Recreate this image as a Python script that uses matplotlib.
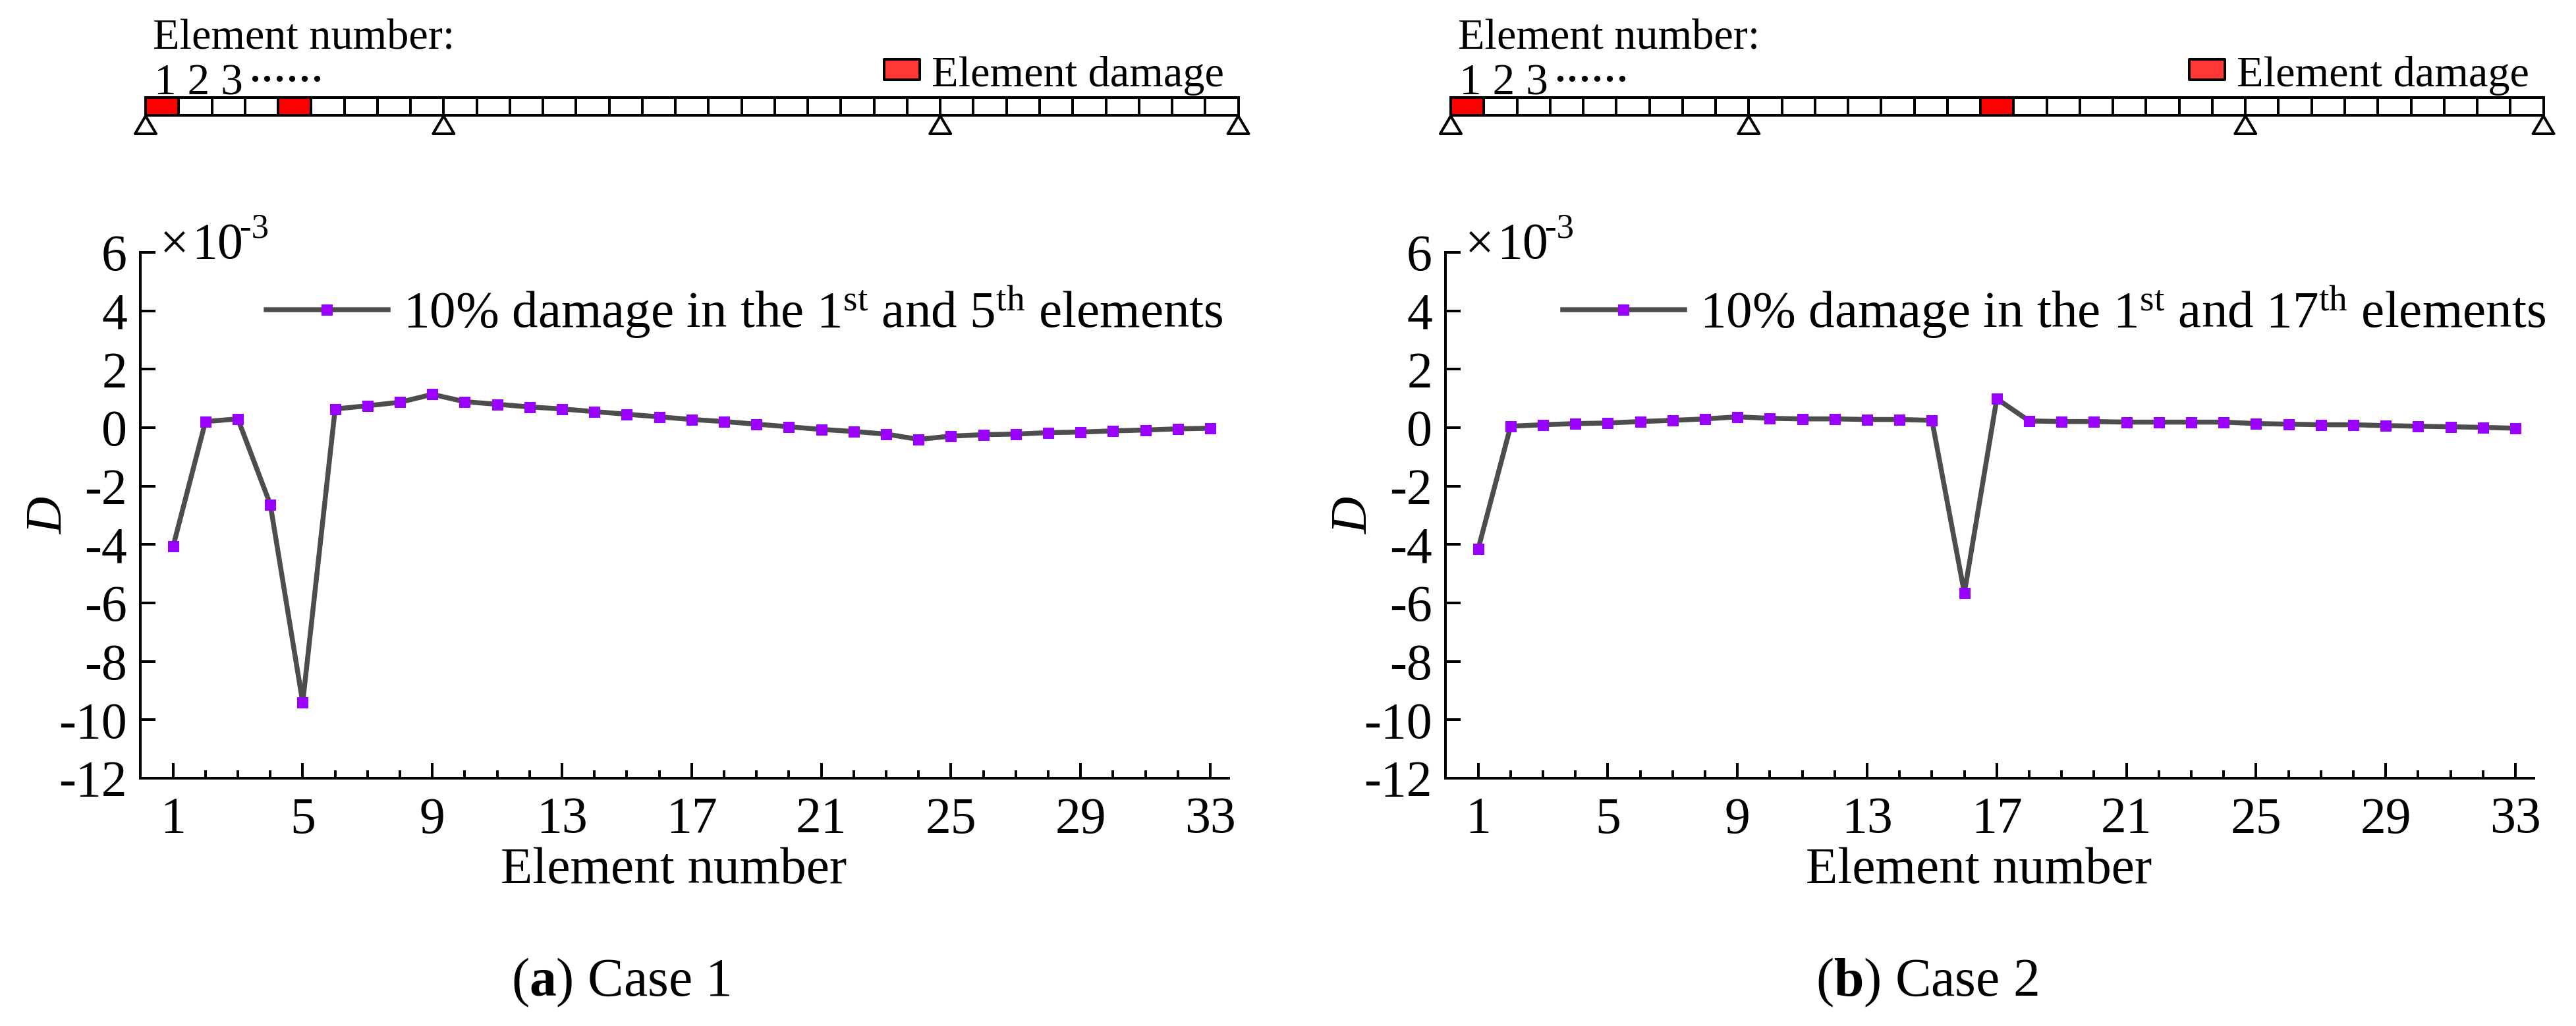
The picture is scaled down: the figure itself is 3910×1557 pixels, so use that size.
import matplotlib
matplotlib.use("Agg")
import matplotlib.pyplot as plt
from matplotlib.patches import Rectangle, Polygon

W, H = 3910, 1557
DPI = 100
PX = 72 / DPI

plt.rcParams['font.family'] = ['Liberation Serif', 'DejaVu Serif']
plt.rcParams['mathtext.fontset'] = 'custom'
plt.rcParams['mathtext.rm'] = 'Liberation Serif'
plt.rcParams['mathtext.it'] = 'Liberation Serif:italic'
plt.rcParams['mathtext.bf'] = 'Liberation Serif:bold'

elements = list(range(1, 34))
case1 = [-4.07, 0.21, 0.30, -2.63, -9.41, 0.64, 0.75, 0.87, 1.14, 0.89, 0.80,
         0.71, 0.64, 0.55, 0.46, 0.37, 0.28, 0.21, 0.12, 0.03, -0.06, -0.13,
         -0.22, -0.40, -0.29, -0.24, -0.22, -0.17, -0.15, -0.11, -0.08, -0.04, -0.02]
case2 = [-4.15, 0.05, 0.10, 0.14, 0.16, 0.21, 0.25, 0.30, 0.37, 0.32, 0.30,
         0.30, 0.28, 0.28, 0.25, -5.66, 0.99, 0.23, 0.21, 0.21, 0.19, 0.19,
         0.19, 0.19, 0.14, 0.12, 0.10, 0.10, 0.07, 0.05, 0.03, 0.01, -0.02]
damaged = [[1, 5], [1, 17]]
supports = [0, 9, 24, 33]
x_major = [1, 5, 9, 13, 17, 21, 25, 29, 33]
y_major = [-12, -10, -8, -6, -4, -2, 0, 2, 4, 6]
legends = ["10% damage in the 1$^{\\mathrm{st}}$ and 5$^{\\mathrm{th}}$ elements",
           "10% damage in the 1$^{\\mathrm{st}}$ and 17$^{\\mathrm{th}}$ elements"]
captions = ["($\\mathbf{a}$) Case 1", "($\\mathbf{b}$) Case 2"]
caption_x = [778, 2758]
legend_x = [404, 2372]
offsets = [0, 1981]

LINE = '#4d4d4d'
MARK = '#9900ff'
FS = 56

fig = plt.figure(figsize=(W / DPI, H / DPI), dpi=DPI, facecolor='white')
ov = fig.add_axes([0, 0, 1, 1], zorder=5)
ov.set_xlim(0, W)
ov.set_ylim(H, 0)
ov.axis('off')
ov.patch.set_alpha(0)

lw = 4 * PX
for values, off, dmg, lab, cap, cx, lx in zip([case1, case2], offsets, damaged, legends,
                                             captions, caption_x, legend_x):
    L, R, T, B = 213 + off, 1865 + off, 383, 1181
    ax = fig.add_axes([L / W, 1 - B / H, (R - L) / W, (B - T) / H])
    ax.plot(elements, values, color=LINE, lw=7.5 * PX, marker='s', ms=17 * PX,
            mfc=MARK, mec=MARK, mew=0, solid_joinstyle='round', label=lab)
    ax.set_xlim(-0.01, 33.57)
    ax.set_ylim(-12, 6)
    ax.set_xticks(x_major)
    ax.set_xticks(elements, minor=True)
    ax.set_yticks(y_major)
    ax.set_yticklabels([str(v) for v in y_major])
    ax.tick_params(axis='both', which='major', direction='in', length=23 * PX, width=lw, labelsize=FS)
    ax.tick_params(axis='x', which='minor', direction='in', length=12 * PX, width=lw)
    ax.tick_params(axis='x', which='major', pad=28 * PX)
    ax.tick_params(axis='y', which='major', pad=20 * PX)
    for s in ('top', 'right'):
        ax.spines[s].set_visible(False)
    for s in ('left', 'bottom'):
        ax.spines[s].set_linewidth(lw)
    ax.patch.set_alpha(0)
    ax.legend(loc='center left', bbox_to_anchor=(lx / W, 1 - 474 / H),
              bbox_transform=fig.transFigure, frameon=False, fontsize=56.9, numpoints=1,
              handlelength=2.34, handletextpad=0.29, borderpad=0, borderaxespad=0)

    ov.text(1023 + off, 1340, "Element number", fontsize=57, ha='center', va='baseline')
    ov.text(75 + off, 782, "D", fontsize=FS, style='italic', rotation=90, ha='center', va='center')
    ov.text(243 + off, 392, "\u00d7", fontsize=FS, ha='left', va='baseline')
    ov.text(291 + off, 392, "10", fontsize=FS, ha='left', va='baseline')
    ov.text(364 + off, 360, "-3", fontsize=38, ha='left', va='baseline')
    ov.text(cx - 2, 1511, cap, fontsize=58.8, ha='left', va='baseline')

    # beam sketch
    x0 = 221 + off
    cw = 50.26
    for i in range(33):
        fc = '#ff0000' if (i + 1) in dmg else 'white'
        ov.add_patch(Rectangle((x0 + i * cw, 147.5), cw, 27.5, fc=fc, ec='black', lw=lw))
    for s in supports:
        sx = x0 + s * cw
        ov.add_patch(Polygon([(sx, 176), (sx - 16, 203), (sx + 16, 203)], closed=True,
                             fc='white', ec='black', lw=lw, joinstyle='round'))
    ov.text(232 + off, 73, "Element number:", fontsize=47.7, ha='left', va='baseline')
    ov.text(234 + off, 143, "1 2 3", fontsize=48.5, ha='left', va='baseline')
    ov.text(377 + off, 138, "\u00b7\u00b7\u00b7\u00b7\u00b7\u00b7", fontsize=41, fontweight='bold', ha='left', va='baseline')
    ov.add_patch(Rectangle((1342 + off, 90), 54, 31, fc='#ff3737', ec='black', lw=lw, joinstyle='round'))
    ov.text(1414 + off, 131, "Element damage", fontsize=47.8, ha='left', va='baseline')

fig.savefig('out.png', dpi=DPI, facecolor='white')
